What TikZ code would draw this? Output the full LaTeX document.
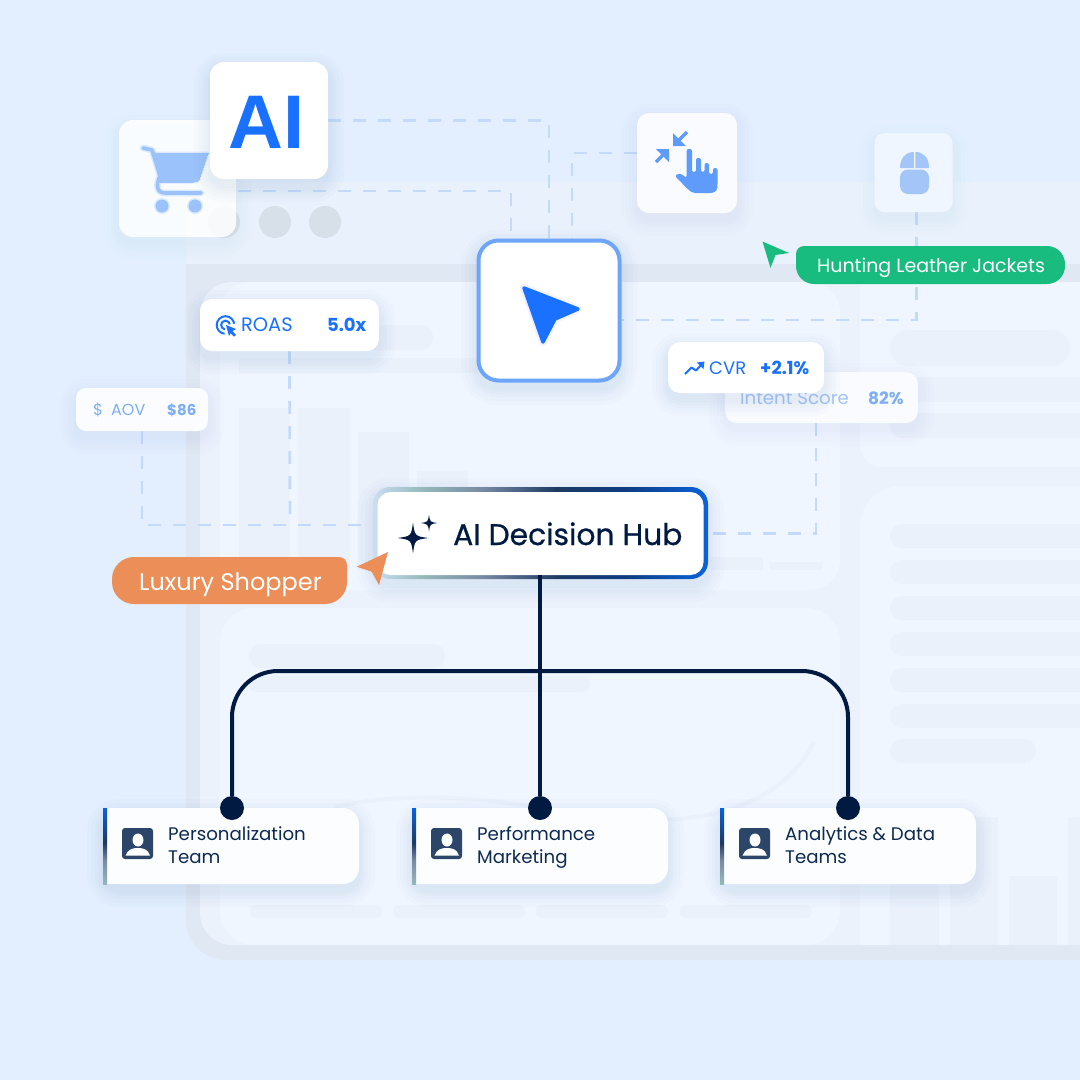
\documentclass[tikz,border=0pt]{standalone}
\usepackage{fontspec}
\setmainfont{Poppins}
\newfontfamily\hubfont[FakeBold=0.7]{Poppins}
\definecolor{bgblue}{HTML}{E3EFFE}
\definecolor{frameC}{HTML}{E0E8F3}
\definecolor{headC}{HTML}{E9F1FC}
\definecolor{baseC}{HTML}{ECF2FC}
\definecolor{panelC}{HTML}{F0F6FF}
\definecolor{barC}{HTML}{EAF1FB}
\definecolor{dashC}{HTML}{C4DAFB}
\definecolor{navy}{HTML}{011A42}
\definecolor{brand}{HTML}{1A70FF}
\definecolor{softblue}{HTML}{7FAEF7}
\definecolor{paleblue}{HTML}{A4C5F7}
\definecolor{cartC}{HTML}{9CC2FB}
\definecolor{handC}{HTML}{5E9BFA}
\definecolor{ringC}{HTML}{6DA5FB}
\definecolor{shadowC}{HTML}{5F82B8}
\definecolor{greenC}{HTML}{18BC7F}
\definecolor{orangeC}{HTML}{EB8E58}
\definecolor{teamText}{HTML}{0F2A50}
\definecolor{teamFill}{HTML}{FBFDFF}
\definecolor{iconC}{HTML}{2C4669}
\definecolor{hs1}{HTML}{CBDDF3}
\definecolor{hs2}{HTML}{93B9B9}
\definecolor{hs3}{HTML}{7A8CA5}
\definecolor{hs4}{HTML}{1D3A63}
\definecolor{hs5}{HTML}{0E3C80}
\definecolor{hs6}{HTML}{0A62DB}
\pgfdeclarehorizontalshading{hubring}{100bp}{color(0bp)=(hs1);color(25bp)=(hs1);color(32.5bp)=(hs2);color(41bp)=(hs3);color(52.5bp)=(hs4);color(62.5bp)=(hs5);color(75bp)=(hs6);color(100bp)=(hs6)}
\pgfdeclareverticalshading{teambar}{100bp}{color(0bp)=(hs2);color(25bp)=(hs2);color(40bp)=(hs3);color(52bp)=(hs4);color(75bp)=(hs6);color(100bp)=(hs6)}
\pgfdeclarelayer{backdrop}
\pgfdeclarelayer{conn}
\pgfsetlayers{backdrop,conn,main}
\tikzset{
 card/.style={rectangle,fill=white,rounded corners=#1,inner sep=0pt},
 card/.default=12pt,
 dashlink/.style={draw=dashC,line width=2.8pt,dash pattern=on 13pt off 12pt},
 trunk/.style={draw=navy,line width=4pt},
 dotnode/.style={circle,fill=navy,minimum size=24pt,inner sep=0pt},
 lbl/.style={inner sep=0pt,anchor=base west},
 bar/.style={fill=barC},
 pillbar/.style={fill=barC,rounded corners=#1},
 pillbar/.default=12pt,
 teamcard/.style={rectangle,fill=teamFill,rounded corners=16pt,minimum width=256pt,minimum height=76pt,inner sep=0pt},
 teamlabel/.style={inner sep=0pt,anchor=base west,align=left,text=teamText,font=\fontsize{18.2}{23}\selectfont},
}
\newcommand{\softshadow}[6][0.022]{% opacity; x1 y1 x2 y2 radius
 \foreach \s in {16,12,8,5,2}{
  \fill[shadowC,opacity=#1,rounded corners=#6pt+\s pt] (#2-\s,#3-\s+7) rectangle (#4+\s,#5+\s+7);
 }}
\newcommand{\sparkle}[3]{%
 (#1,#2-#3) .. controls (#1+0.12*#3,#2-0.12*#3) .. (#1+#3,#2)
 .. controls (#1+0.12*#3,#2+0.12*#3) .. (#1,#2+#3)
 .. controls (#1-0.12*#3,#2+0.12*#3) .. (#1-#3,#2)
 .. controls (#1-0.12*#3,#2-0.12*#3) .. cycle}
\newcommand{\personicon}[1]{%
 \fill[iconC,rounded corners=3pt] (#1,828) rectangle (#1+31,859);
 \fill[white] (#1+16,840) ellipse [x radius=5.5pt,y radius=6.5pt];
 \fill[white] (#1+3.5,855.5) .. controls (#1+6,849) and (#1+11,848) .. (#1+15.5,848) .. controls (#1+21,848) and (#1+26,849) .. (#1+28,855.5) -- cycle;
}
\begin{document}
\begin{tikzpicture}[x=1pt,y=-1pt]
\useasboundingbox (0,0) rectangle (1080,1080);
\begin{pgfonlayer}{backdrop}
\fill[bgblue] (0,0) rectangle (1080,1080);
% window frame
\fill[headC] (186,182) rectangle (1080,264);
\fill[frameC] (186,264) -- (1080,264) -- (1080,960) [rounded corners=40pt] -- (186,960) [sharp corners] -- cycle;
\fill[baseC] (1080,282) -- (1080,945) [rounded corners=32pt] -- (200,945) -- (200,282) [sharp corners] -- cycle;
% panels
\begin{scope}
\clip (200,282) rectangle (1080,945);
\fill[panelC,rounded corners=30pt] (220,282) rectangle (840,590);
\fill[panelC,rounded corners=34pt] (220,608) rectangle (840,945);
\fill[panelC,rounded corners=22pt] (860,240) rectangle (1130,467);
\fill[panelC,rounded corners=40pt] (860,486) rectangle (1130,1000);
\end{scope}
% upper-left bars
\fill[pillbar=12pt] (240,325) rectangle (433,350);
\fill[bar] (239,358) rectangle (620,373);
\fill[bar] (239,408) rectangle (290,570);
\fill[bar] (298,408) rectangle (350,570);
\fill[bar] (358,432) rectangle (409,570);
\fill[bar] (417,471) rectangle (468,570);
\fill[bar] (710,557) rectangle (763,570);
\fill[bar] (770,562) rectangle (822,570);
% lower-left
\fill[pillbar=12pt] (249,644) rectangle (445,668);
\fill[pillbar=8pt] (249,676) rectangle (590,692);
\draw[barC,line width=4pt] (335,807) .. controls (400,792) and (480,795) .. (560,812) .. controls (690,835) and (780,810) .. (814,742);
\foreach \a in {250,393,536,680}{\fill[pillbar=6pt] (\a,905) rectangle (\a+132,918);}
% right column
\fill[pillbar=18pt] (890,330) rectangle (1070,366);
\fill[bar] (890,377) rectangle (1080,402);
\begin{scope}
\clip (860,240) rectangle (1080,945);
\fill[pillbar=12pt] (890,413) rectangle (1100,438);
\foreach \b in {524,560,596,632,668,704}{\fill[pillbar=12pt] (890,\b) rectangle (1110,\b+24);}
\end{scope}
\fill[pillbar=12pt] (890,739) rectangle (1036,763);
\fill[bar] (890,830) rectangle (939,945);
\fill[bar,rounded corners=2pt] (950,817) rectangle (998,960);
\fill[bar,rounded corners=2pt] (1009,876) rectangle (1057,960);
\fill[bar] (1068,817) rectangle (1080,945);
\fill[frameC] (860,945) rectangle (1080,960);
% window dots
\foreach \c in {224,275,325}{\fill[fill=frameC!96!black] (\c,222) circle (16pt);}
\end{pgfonlayer}

% ---------- cards ----------
% Cart
\softshadow[0.006]{119}{120}{236}{237}{14}
\node[card=14pt,fill=white,fill opacity=.86,minimum width=117pt,minimum height=117pt] (cart) at (177.5,178.5) {};
\begin{scope}
 \foreach \w/\o in {3/.3,0/1}{
 \begin{scope}[opacity=\o]
 \draw[draw=cartC,line width=\w pt+3.6pt,line cap=round,line join=round,fill=none] (143,148) -- (152,150) -- (160,176) .. controls (156,184) and (156,193) .. (165,193) -- (201,193);
 \fill[cartC,draw=cartC,line width=\w pt,line join=round] (153,153) -- (208,153) -- (199,179) .. controls (198,182) and (196,182) .. (193,182) -- (161,182) -- cycle;
 \fill[cartC] (162,206) circle (6.5pt+.5*\w pt) (195,206) circle (6.5pt+.5*\w pt);
 \end{scope}}
\end{scope}

% AI
\softshadow{210}{62}{328}{179}{14}
\node[card=14pt,minimum width=118pt,minimum height=117pt] (ai) at (269,120.5) {};
\node[lbl,text=brand,font={\fontspec{Liberation Sans}\bfseries\fontsize{76}{76}\selectfont}] (ait) at (228.5,148) {AI};

% Hand
\softshadow[0.012]{637}{113}{737}{213}{12}
\node[card=12pt,fill=white!60!panelC,minimum width=100pt,minimum height=100pt] (hand) at (687,163) {};
\begin{scope}[handicon/.style={draw=handC,line width=3.4pt}]
 \draw[handicon] (687,132) -- (676,143);
 \fill[handC] (673,146) -- (673,133) -- (686,146) -- cycle;
 \draw[handicon] (656,162) -- (666,152);
 \fill[handC] (669,149) -- (656,149) -- (669,162) -- cycle;
 \fill[handC,rounded corners=2pt] (686.5,149) -- (692,149) -- (692,172) -- (696,172) -- (696,158) -- (701,158) -- (701,172) -- (704.5,172) -- (704.5,163) -- (709,163) -- (709,174) -- (713,174) -- (713,168) -- (717.5,168) -- (717.5,186) .. controls (717,192) and (712,193) .. (708,193) -- (697,193) .. controls (690,193) and (685,186) .. (675,176) .. controls (680,172) and (684,176) .. (686.5,178) -- cycle;
\end{scope}

% Mouse
\softshadow[0.008]{875}{133}{953}{212}{10}
\node[card=10pt,fill=panelC,minimum width=78pt,minimum height=79pt] (mouse) at (913.5,172.5) {};
\fill[paleblue] (913.8,152) .. controls (906,152) and (900,158) .. (900,168) -- (913.8,168) -- cycle;
\fill[paleblue] (915.4,152) .. controls (924,152) and (929,158) .. (929,168) -- (915.4,168) -- cycle;
\fill[paleblue,rounded corners=8pt] (900,169.5) -- (929,169.5) -- (929,194) -- (900,194) -- cycle;

% Cursor
\softshadow{477}{239}{621}{382}{20}
\node[card=20pt,draw=ringC,line width=4pt,minimum width=141pt,minimum height=140pt] (cursor) at (549,310.5) {};
\fill[white,draw=blue!5!white,line width=8pt,line join=round] (524,288) -- (578,309) -- (555,319) -- (543,342) -- cycle;
\fill[brand,draw=brand,line width=3.5pt,line join=round] (524,288) -- (578,309) -- (555,319) -- (543,342) -- cycle;

% Green tag
\fill[greenC,rounded corners=8pt] (796,246) rectangle (825,270);
\node[rectangle,fill=greenC,minimum width=269pt,minimum height=38pt,rounded corners=18pt] (green) at (930.5,265) {};
\node[lbl,text=white,font=\fontsize{19}{19}\selectfont] (greent) at (817,272) {Hunting Leather Jackets};
\fill[greenC] (762.5,241.5) -- (789,253) -- (775.5,255) -- (770.5,268) -- cycle;

% Orange tag
\fill[orangeC,rounded corners=8pt] (310,557) rectangle (347,585);
\node[rectangle,fill=orangeC,minimum width=235pt,minimum height=47pt,rounded corners=22pt] (orange) at (229.5,580.5) {};
\node[lbl,text=white,font=\fontsize{24}{24}\selectfont] (oranget) at (139,590) {Luxury Shopper};

% ROAS
\softshadow{200}{299}{379}{351}{12}
\node[card=12pt,minimum width=179pt,minimum height=52pt] (roas) at (289.5,325) {};
\node[lbl,text=brand,font=\fontsize{19.4}{19}\selectfont] (roast) at (241,331.7) {ROAS};
\node[lbl,text=brand,font=\bfseries\fontsize{18}{18}\selectfont] (roasv) at (327,331.7) {5.0x};
\draw[brand,line width=2pt] (225.5,325) circle (8.8pt);
\draw[brand,line width=2pt] (225.5,325) circle (4.4pt);
\fill[white] (225.5,325) -- (240,323) -- (240,340) -- (224,340) -- cycle;
\fill[brand] (226,325) -- (236,329) -- (232.5,331) -- (236,335) -- (234,336.5) -- (230.5,333) -- (229,336) -- cycle;

% AOV
\softshadow[0.012]{76}{388}{208}{431}{10}
\node[card=10pt,fill=white!65!panelC,minimum width=132pt,minimum height=43pt] (aov) at (142,409.5) {};
\node[lbl,text=softblue,font=\fontsize{16}{16}\selectfont] (aovs) at (93,415) {\$};
\node[lbl,text=softblue,font=\fontsize{16}{16}\selectfont] (aovt) at (111,415) {AOV};
\node[lbl,text=softblue,font=\bfseries\fontsize{15}{15}\selectfont] (aovv) at (167,415) {\$86};

% Intent
\softshadow[0.012]{725}{372}{918}{423}{12}
\node[card=12pt,fill=white!60!panelC,minimum width=193pt,minimum height=51pt] (intent) at (821.5,397.5) {};
\node[lbl,text=paleblue,font=\fontsize{18.2}{18}\selectfont] (intentt) at (740,404.5) {Intent Score};
\node[lbl,text=softblue,font=\bfseries\fontsize{17}{17}\selectfont] (intentv) at (868,404.5) {82\%};

% CVR
\softshadow{668}{342}{824}{393}{12}
\node[card=12pt,minimum width=156pt,minimum height=51pt] (cvr) at (746,367.5) {};
\node[lbl,text=brand,font=\fontsize{18}{18}\selectfont] (cvrt) at (709,374) {CVR};
\node[lbl,text=brand,font=\bfseries\fontsize{18}{18}\selectfont] (cvrv) at (760,374) {+2.1\%};
\draw[brand,line width=2pt,line join=round] (685,374) -- (691.5,367.5) -- (696,370.5) -- (703,363);
\fill[brand] (704.5,361.5) -- (697,362.5) -- (703.5,369) -- cycle;

% Hub
\softshadow{373}{487}{708}{579}{16}
\shade[shading=hubring,rounded corners=17pt] (373,487) rectangle (708,579);
\node[card=13pt,minimum width=326pt,minimum height=83pt] (hub) at (540.5,533.5) {};
\node[lbl,text=navy,font={\hubfont\fontsize{29.8}{29.8}\selectfont}] (hubt) at (453,545) {AI Decision Hub};
\fill[navy] \sparkle{413}{538}{15.5};
\fill[navy] \sparkle{429}{523}{8.5};

% Orange pointer on top of hub
\fill[orangeC] (356.7,566.7) -- (388,552) -- (379,585) -- (371.7,571.7) -- cycle;

% Teams
\softshadow{103}{808}{359}{884}{16}
\softshadow{412}{808}{668}{884}{16}
\softshadow{720}{808}{976}{884}{16}
\foreach \n/\x/\tx/\ta/\tb in {team1/103/168/Personalization/Team,team2/412/477/Performance/Marketing,team3/720/785/Analytics \& Data/Teams}{
 \fill[teamFill] (\x,808) rectangle (\x+40,884);
 \node[teamcard] (\n) at (\x+128,846) {};
 \shade[shading=teambar] (\x,808) rectangle (\x+4,884);
 \personicon{\x+19}
 \node[teamlabel] (\n t) at (\tx,863.5) {\ta\\\tb};
}

% trunk connectors
\node[dotnode] (d1) at (232,808) {};
\node[dotnode] (d2) at (540,808) {};
\node[dotnode] (d3) at (848,808) {};
\coordinate (bus) at (540,671);
\draw[trunk] (hub.south -| d2) -- (d2);
\draw[trunk,rounded corners=46pt] (d1) |- (bus) -| (d3);

% dashed connectors
\coordinate (c1) at (549,239);
\coordinate (c2s) at (238,191);
\coordinate (c2) at (511,239);
\coordinate (c3) at (572,239);
\coordinate (c5) at (290,525);
\begin{pgfonlayer}{conn}
\draw[dashlink] (ai.east) -| (c1);
\draw[dashlink] (c2s) -| (c2);
\draw[dashlink] ([yshift=10pt]hand.west) -| (c3);
\draw[dashlink] ([xshift=3pt]mouse.south) |- ([yshift=-9.5pt]cursor.east);
\draw[dashlink] (roas.south) -- (c5);
\draw[dashlink] (aov.south) |- ([yshift=8.5pt]hub.west);
\draw[dashlink] ([xshift=-5.5pt]intent.south) |- (hub.east);
\end{pgfonlayer}
\end{tikzpicture}
\end{document}
